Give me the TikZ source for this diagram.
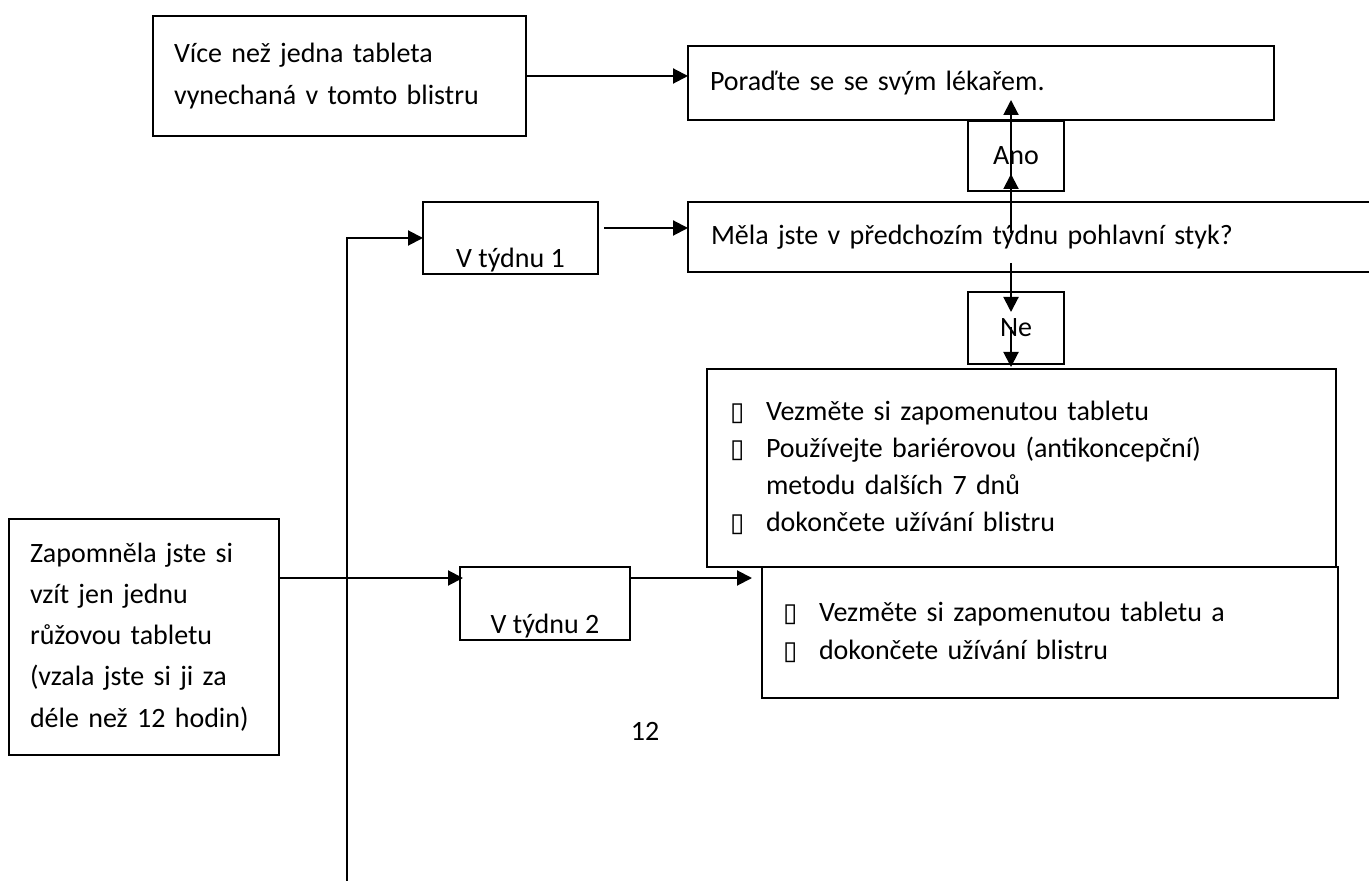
\documentclass[tikz,border=0pt]{standalone}
\usepackage{fontspec}
\setmainfont{Carlito}
\newfontfamily\symfont{DejaVu Sans}
\usetikzlibrary{arrows.meta,calc}
\newcommand{\bul}{\makebox[18pt][l]{\symfont\fontsize{13}{13}\selectfont ▯}}

\begin{document}
\begin{tikzpicture}[x=0.5pt,y=-0.5pt,
  every node/.style={font=\fontsize{14}{21}\selectfont},
  box/.style={draw,line width=1pt,anchor=north west,inner sep=0pt,outer sep=0pt},
  arr/.style={line width=1pt,-{Triangle[length=7.5pt,width=7.5pt]}}]
\useasboundingbox (0,0) rectangle (1369,881);
\clip (0,0) rectangle (1369,881);

% boxes
\node[box,minimum width=186.5pt,minimum height=60pt,text width=165.5pt,align=left] (vice) at (153,16)
  {Více než jedna tableta\\vynechaná v tomto blistru};
\node[box,minimum width=293pt,minimum height=37pt,text width=271pt,align=left] (poradte) at (688,46)
  {Poraďte se se svým lékařem.};
\node[box,minimum width=48pt,minimum height=35pt] (ano) at (968,121) {Ano};
\node[box,minimum width=87.5pt,minimum height=36pt,text height=30pt,text depth=0pt] (v1) at (423,202) {V týdnu 1};
\node[box,minimum width=360pt,minimum height=35pt,text width=337pt,align=left] (meta) at (688,202)
  {Měla jste v předchozím týdnu pohlavní styk?};
\node[box,minimum width=48pt,minimum height=36pt] (ne) at (968,292) {Ne};
\node[box,minimum width=314.5pt,minimum height=99pt,text width=291.5pt,align=left,
  font=\fontsize{14}{18.5}\selectfont] (steps1) at (707,369)
  {\bul Vezměte si zapomenutou tabletu\\
   \bul Používejte bariérovou (antikoncepční)\\
   \hspace*{18pt}metodu dalších 7 dnů\\
   \bul dokončete užívání blistru};
\node[box,minimum width=85pt,minimum height=36.5pt,text height=29.5pt,text depth=0pt] (v2) at (460,567) {V týdnu 2};
\node[box,minimum width=288pt,minimum height=65.5pt,text width=267pt,align=left,
  font=\fontsize{14}{19}\selectfont] (steps2) at (762,567)
  {\bul Vezměte si zapomenutou tabletu a\\
   \bul dokončete užívání blistru};
\node[box,minimum width=135pt,minimum height=118pt,text width=114pt,align=left,
  font=\fontsize{14}{20.6}\selectfont] (zap) at (9,519)
  {Zapomněla jste si\\vzít jen jednu\\růžovou tabletu\\(vzala jste si ji za\\déle než 12 hodin)};
\node (page) at (645,731) {12};

% arrows
\coordinate (low) at (347,881);
\draw[arr] (vice.east) -- (vice.east -| poradte.west);
\draw[arr] (low) |- (v1.west);
\draw[arr] ($(v1.east)+(6,-10)$) -- ($(meta.west)+(0,-9)$);
\draw[arr] ($(ano.south)+(-5,42)$) -- ($(ano.south)+(-5,-17)$);
\draw[arr] ($(ano.south)+(-5,-3)$) -- ($(ano.north)+(-5,-21)$);
\draw[arr] ($(ne.north)+(-5,-29)$) -- ($(ne.north)+(-5,20)$);
\draw[arr] ($(ne.north)+(-5,35)$) -- ($(ne.south)+(-5,3)$);
\draw[arr] ($(zap.north east)+(0,59)$) -- ($(v2.north west)+(3,11)$);
\draw[arr] ($(v2.north east)+(0,11)$) -- ($(steps2.north west)+(-10,11)$);
\end{tikzpicture}
\end{document}
